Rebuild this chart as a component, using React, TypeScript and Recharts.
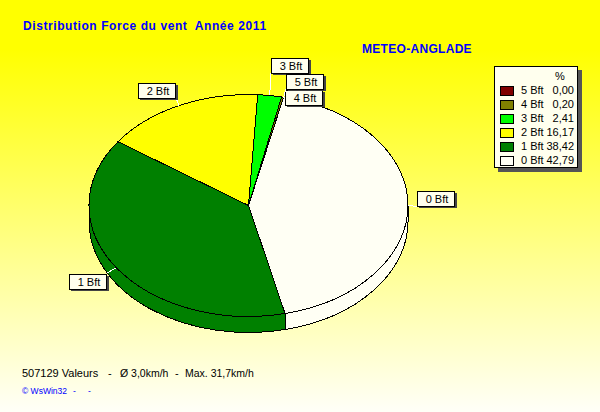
import { PieChart, Pie, Legend } from 'recharts'

// wind force classes, in drawing order (clockwise from the top)
const NAMES = ['0 Bft', '1 Bft', '2 Bft', '3 Bft', '4 Bft', '5 Bft']
const PERCENTS = [42.79, 38.42, 16.17, 2.41, 0.2, 0.0]
const PERCENT_LABELS = ['42,79', '38,42', '16,17', '2,41', '0,20', '0,00']
const COLORS = ['#fffff4', '#008000', '#ffff00', '#00ff00', '#808000', '#800000']

const sliceData = NAMES.map((name, i) => ({ name, value: PERCENTS[i], fill: COLORS[i] }))

const FONT = '"Liberation Sans", Arial, sans-serif'
const CX = 248.5
const CY = 205.5
const RX = 159.5
const RY = 111
const DEPTH = 16
const START_ANGLE = 77.3

// box of every slice label: x, y, and where the leader line meets it
const LABEL_BOXES: Record<string, { x: number; y: number; ax: number; ay: number }> = {
  '0 Bft': { x: 417, y: 191, ax: 417, ay: 207 },
  '1 Bft': { x: 69, y: 274, ax: 107, ay: 273 },
  '2 Bft': { x: 138, y: 83, ax: 176, ay: 98 },
  '3 Bft': { x: 271, y: 58, ax: 271, ay: 73 },
  '4 Bft': { x: 285, y: 90, ax: 285, ay: 97 },
  '5 Bft': { x: 286, y: 74, ax: 286, ay: 89 },
}

const toRad = (a: number) => (a * Math.PI) / 180
const px = (a: number) => CX + RX * Math.cos(toRad(a))
const py = (a: number) => CY - RY * Math.sin(toRad(a))

// circular sectors of recharts drawn as ellipse arcs
function TopSlice({ startAngle, endAngle, fill }: any) {
  if (startAngle - endAngle < 0.01) return null
  const large = startAngle - endAngle > 180 ? 1 : 0
  const d = `M${CX},${CY} L${px(startAngle)},${py(startAngle)} A${RX},${RY} 0 ${large} 1 ${px(endAngle)},${py(endAngle)} Z`
  return <path d={d} fill={fill} stroke="#000" strokeWidth={1} shapeRendering="crispEdges" />
}

// rim of the pie, only the front half can be seen
function RimSlice({ startAngle, endAngle, fill }: any) {
  const hi = Math.min(startAngle, 0)
  const lo = Math.max(endAngle, -180)
  if (hi - lo < 0.01) return null
  const d =
    `M${px(hi)},${py(hi)} A${RX},${RY} 0 0 1 ${px(lo)},${py(lo)} ` +
    `L${px(lo)},${py(lo) + DEPTH} A${RX},${RY} 0 0 0 ${px(hi)},${py(hi) + DEPTH} Z`
  return <path d={d} fill={fill} stroke="#000" strokeWidth={1} shapeRendering="crispEdges" />
}

function SliceLabel({ name, midAngle }: any) {
  const box = LABEL_BOXES[name]
  if (!box) return null
  return (
    <g>
      <line x1={px(midAngle)} y1={py(midAngle)} x2={box.ax} y2={box.ay} stroke="#fff" strokeWidth={1} shapeRendering="crispEdges" />
      <rect x={box.x + 2} y={box.y + 2} width={38} height={15} fill="#444" />
      <rect x={box.x + 0.5} y={box.y + 0.5} width={37} height={15} fill="#ffffee" stroke="#000" />
      <text x={box.x + 20} y={box.y + 12} textAnchor="middle" fontFamily={FONT} fontSize={11} fill="#000">
        {name}
      </text>
    </g>
  )
}

function PercentLegend() {
  const rows = NAMES.map((name, i) => ({ name, label: PERCENT_LABELS[i], color: COLORS[i] })).reverse()
  return (
    <div
      style={{
        position: 'relative',
        width: 82,
        height: 100,
        background: '#ffffee',
        border: '1px solid #000',
        boxShadow: '4px 4px 0 #555',
        fontFamily: FONT,
        fontSize: 11,
        color: '#000',
      }}
    >
      <span style={{ position: 'absolute', left: 60, top: 3 }}>%</span>
      {rows.map((row, i) => (
        <div key={row.name}>
          <span
            style={{
              position: 'absolute',
              left: 5,
              top: 19 + i * 14,
              width: 12,
              height: 8,
              background: row.color,
              border: '1px solid #000',
            }}
          />
          <span style={{ position: 'absolute', left: 26, top: 17 + i * 14, lineHeight: '13px' }}>{row.name}</span>
          <span style={{ position: 'absolute', right: 3, top: 17 + i * 14, lineHeight: '13px' }}>{row.label}</span>
        </div>
      ))}
    </div>
  )
}

export default function App() {
  return (
    <div
      style={{
        position: 'absolute',
        left: 0,
        top: 0,
        width: 600,
        height: 412,
        overflow: 'hidden',
        background: 'linear-gradient(180deg, #ffff00 0%, #ffff00 12%, #fffff8 100%)',
      }}
    >
      <PieChart width={600} height={412} margin={{ top: 0, right: 0, bottom: 0, left: 0 }}>
        <Pie
          data={sliceData}
          dataKey="value"
          nameKey="name"
          cx={CX}
          cy={CY}
          outerRadius={RX}
          startAngle={START_ANGLE}
          endAngle={START_ANGLE - 360}
          paddingAngle={0}
          shape={RimSlice}
          legendType="none"
          isAnimationActive={false}
        />
        <Pie
          data={sliceData}
          dataKey="value"
          nameKey="name"
          cx={CX}
          cy={CY}
          outerRadius={RX}
          startAngle={START_ANGLE}
          endAngle={START_ANGLE - 360}
          paddingAngle={0}
          shape={TopSlice}
          label={SliceLabel}
          labelLine={false}
          isAnimationActive={false}
        />
        <Legend
          content={<PercentLegend />}
          wrapperStyle={{ position: 'absolute', left: 494, top: 66, width: 84, height: 102 }}
        />
        <text x={23} y={30} fontFamily={FONT} fontSize={12} fontWeight="bold" fill="#0000ff" letterSpacing={0.58} style={{ whiteSpace: 'pre' }}>
          {'Distribution Force du vent  Année 2011'}
        </text>
        <text x={362} y={53} fontFamily={FONT} fontSize={12} fontWeight="bold" fill="#0000ff" letterSpacing={0.3}>
          METEO-ANGLADE
        </text>
        <text y={377} fontFamily={FONT} fontSize={11} fill="#000">
          <tspan x={22}>507129 Valeurs</tspan>
          <tspan x={108}>-</tspan>
          <tspan x={120} fontSize={10.5}>Ø 3,0km/h</tspan>
          <tspan x={175}>-</tspan>
          <tspan x={185} fontSize={10.5}>Max. 31,7km/h</tspan>
        </text>
        <text y={394} fontFamily={FONT} fontSize={8.5} fill="#0000ff">
          <tspan x={22}>© WsWin32</tspan>
          <tspan x={73}>-</tspan>
          <tspan x={88}>-</tspan>
        </text>
      </PieChart>
    </div>
  )
}
